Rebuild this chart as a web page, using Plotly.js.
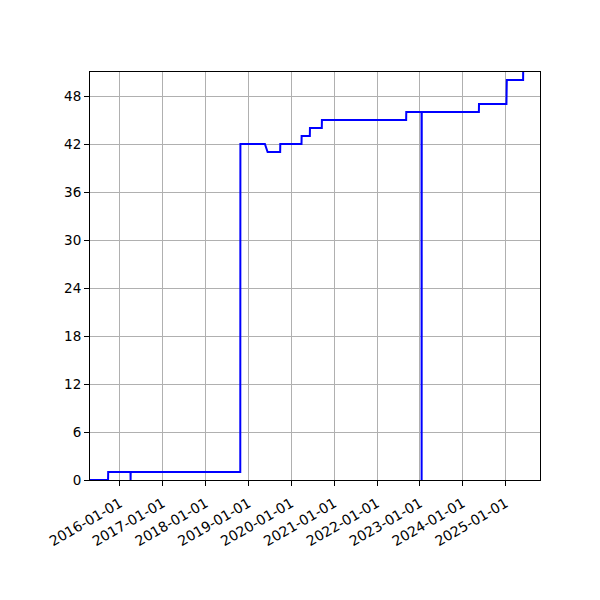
<!DOCTYPE html>
<html>
<head>
<meta charset="utf-8">
<script src="https://cdn.plot.ly/plotly-3.0.1.min.js"></script>
<style>html,body{margin:0;padding:0;background:#fff;}#chart{width:600px;height:600px;}</style>
</head>
<body>
<div id="chart"></div>
<script>
const dates = ['2015-04-21','2015-09-22','2015-09-23','2016-03-31','2016-04-01','2016-04-02',
  '2018-10-23','2018-10-24','2019-05-21','2019-06-13','2019-09-28','2019-09-29',
  '2020-03-28','2020-03-29','2020-06-07','2020-06-08','2020-09-17','2020-09-18',
  '2022-09-06','2022-09-07','2023-01-15','2023-01-16','2023-01-17',
  '2024-05-18','2024-05-19','2025-01-08','2025-01-11','2025-05-30','2025-05-31','2025-10-21'];
const counts = [0,0,1,1,0,1,1,42,42,41,41,42,42,43,43,44,44,45,45,46,46,0,46,46,47,47,50,50,52,52];
const xTickVals = ['2016-01-01','2017-01-01','2018-01-01','2019-01-01','2020-01-01','2021-01-01','2022-01-01','2023-01-01','2024-01-01','2025-01-01'];
const yTickVals = [0,6,12,18,24,30,36,42,48];

const trace = {
  x: dates, y: counts, type: 'scatter', mode: 'lines',
  line: {color: '#0000ff', width: 2}, hoverinfo: 'skip'
};
const axisCommon = {
  showline: true, linecolor: '#000', linewidth: 1, mirror: true,
  ticks: 'outside', ticklen: 5, tickwidth: 1, tickcolor: '#000',
  showgrid: true, gridcolor: '#b0b0b0', gridwidth: 1, zeroline: false,
  tickfont: {family: 'DejaVu Sans', size: 13.5, color: '#000'}
};
const layout = {
  width: 600, height: 600,
  margin: {l: 90, r: 60, t: 72, b: 120},
  paper_bgcolor: '#fff', plot_bgcolor: '#fff',
  showlegend: false,
  xaxis: Object.assign({}, axisCommon, {
    type: 'date', range: ['2015-04-21', '2025-10-21'],
    tickmode: 'array', tickvals: xTickVals, ticktext: xTickVals,
    tickangle: -30, ticklabelstandoff: 4,
    tickfont: {family: 'DejaVu Sans', size: 14, color: '#000'}
  }),
  yaxis: Object.assign({}, axisCommon, {
    range: [0, 51], tickmode: 'array', tickvals: yTickVals
  })
};
Plotly.newPlot('chart', [trace], layout, {staticPlot: true});
</script>
</body>
</html>
